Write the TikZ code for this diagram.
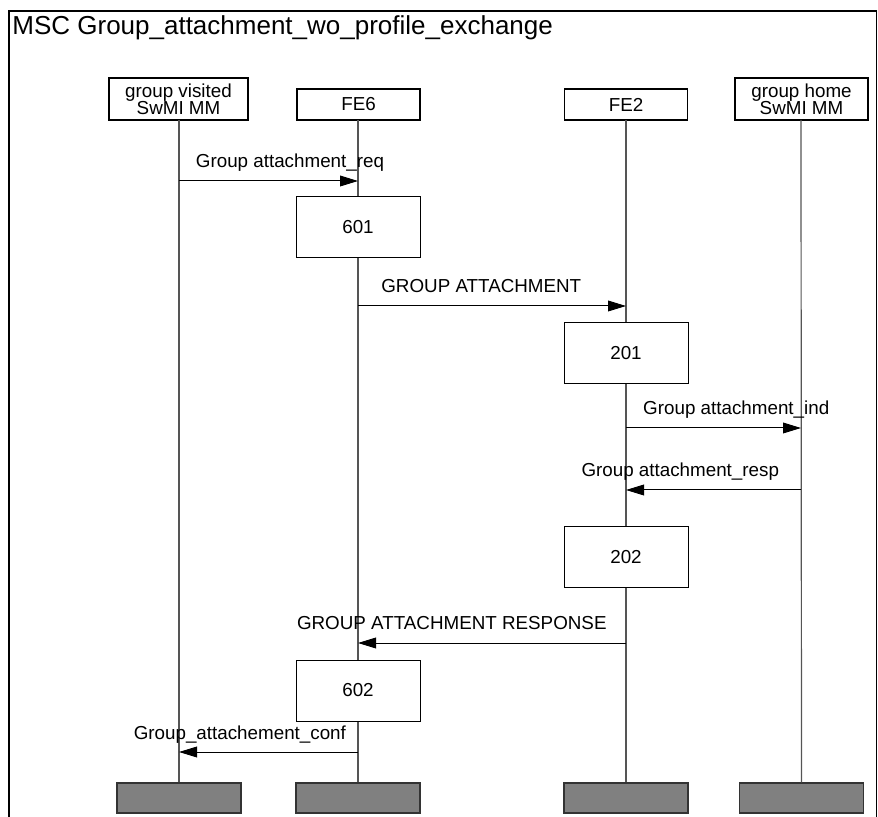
\documentclass[tikz,border=0pt]{standalone}
\usepackage{fontspec}
\setmainfont{Liberation Sans}
\usetikzlibrary{arrows.meta, positioning}
\definecolor{cLife}{RGB}{85,85,85}
\definecolor{cEnd}{RGB}{128,128,128}
\tikzset{
	inst/.style   ={rectangle, draw=black, line width=0.6pt, minimum width=61.5pt, minimum height=15.5pt, inner sep=0pt, align=center, font=\fontsize{9.4}{8.6}\selectfont},
	action/.style ={rectangle, draw=black, line width=0.5pt, fill=white, minimum width=62pt, minimum height=30.5pt, inner sep=0pt, font=\fontsize{9.4}{11}\selectfont},
	instend/.style={rectangle, draw=black!80, line width=0.7pt, fill=cEnd, minimum width=62pt, minimum height=15pt, inner sep=0pt},
	life/.style   ={draw=cLife, line width=0.6pt},
	msg/.style    ={-{Triangle[length=9pt, width=5.4pt]}, line width=0.5pt},
	lbl/.style    ={anchor=base, yshift=6.5pt, inner sep=0pt, font=\fontsize{9.4}{11}\selectfont},
}

\begin{document}
\begin{tikzpicture}[x=0.5pt, y=-0.5pt]
	\useasboundingbox (0,0) rectangle (878,817);
	% frame and title
	\draw[line width=0.75pt] (9,817) -- (9,11) -- (876.5,11) -- (876.5,817);
	\node[anchor=base west, inner sep=0pt, font=\fontsize{13}{15}\selectfont] (title) at (12,35) {MSC Group\_attachment\_wo\_profile\_exchange};
	% instances
	\node[inst, minimum width=69.5pt, minimum height=21pt] (gv) at (178.5,99) {group visited\\SwMI MM};
	\node[inst] (fe6) at (358.5,104.5) {FE6};
	\node[inst] (fe2) at (626,104.5) {FE2};
	\node[inst, minimum width=66.5pt, minimum height=21pt] (gh) at (801.5,99) {group home\\SwMI MM};
	\node[instend] (gvE) at (179,798) {};
	\node[instend] (fe6E) at (358,798) {};
	\node[instend] (fe2E) at (626,798) {};
	\node[instend] (ghE) at (801.5,798) {};
	\draw[life] (179,120) -- (gvE);
	\draw[life] (358,120) -- (fe6E);
	\draw[life] (626,120) -- (fe2E);
	\draw[life] (801,120) -- (ghE);
	% actions
	\node[action] (a601) at (358,227.5) {601};
	\node[action] (a201) at (626,353.5) {201};
	\node[action] (a202) at (626,557.5) {202};
	\node[action] (a602) at (358,690.5) {602};
	% message points
	\coordinate (req1) at (179,181);  \coordinate (req2) at (358,181);
	\coordinate (ga1) at (358,306);   \coordinate (ga2) at (626,306);
	\coordinate (ind1) at (626,428);  \coordinate (ind2) at (801,428);
	\coordinate (rsp1) at (801,490);  \coordinate (rsp2) at (626,490);
	\coordinate (gar1) at (626,643);  \coordinate (gar2) at (358,643);
	\coordinate (cnf1) at (358,752);  \coordinate (cnf2) at (179,752);
	% messages
	\draw[msg] (req1) -- node[lbl, pos=0.62] {Group attachment\_req} (req2);
	\draw[msg] (ga1) -- node[lbl, pos=0.46] {GROUP ATTACHMENT} (ga2);
	\draw[msg] (ind1) -- node[lbl, pos=0.63] {Group attachment\_ind} (ind2);
	\draw[msg] (rsp1) -- node[lbl, pos=0.69] {Group attachment\_resp} (rsp2);
	\draw[msg] (gar1) -- node[lbl, pos=0.65] {GROUP ATTACHMENT RESPONSE} (gar2);
	\draw[msg] (cnf1) -- node[lbl, pos=0.66] {Group\_attachement\_conf} (cnf2);
\end{tikzpicture}
\end{document}
